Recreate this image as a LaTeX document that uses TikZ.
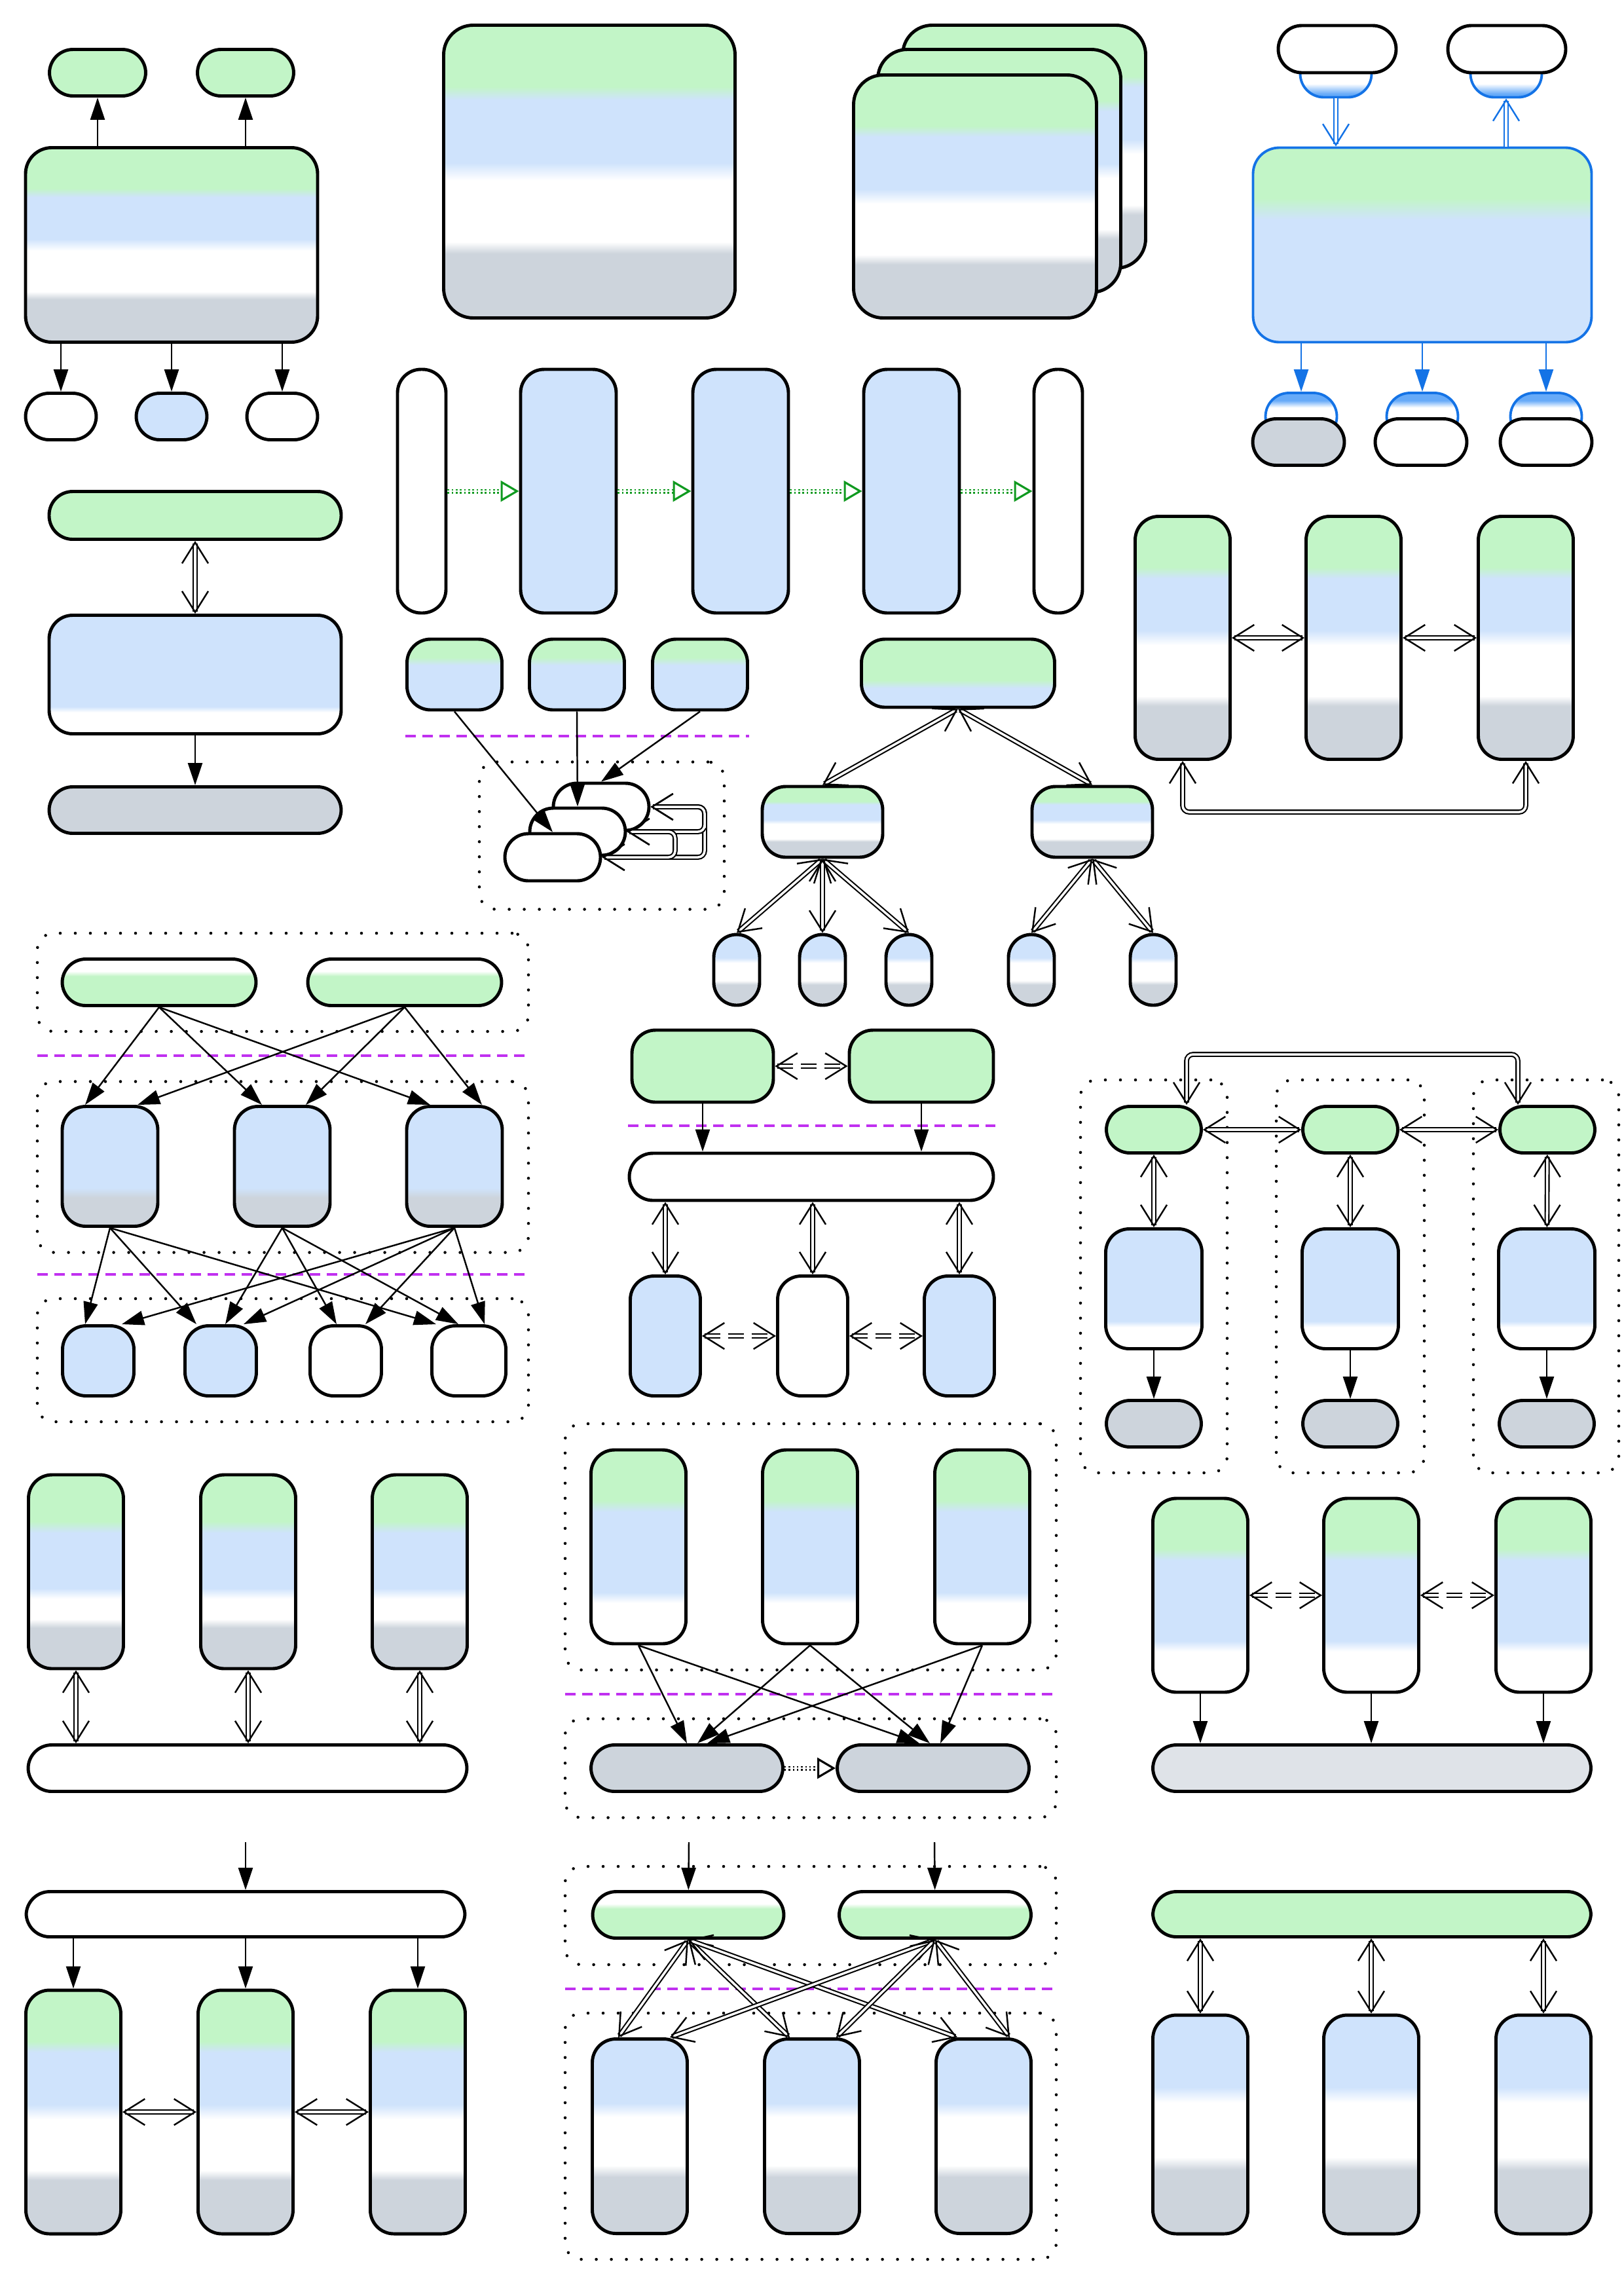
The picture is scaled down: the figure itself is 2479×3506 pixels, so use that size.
\documentclass[tikz,border=0pt]{standalone}
\usepackage{tikz}
\usetikzlibrary{arrows.meta}
\usetikzlibrary{shapes,fit,calc}

\definecolor{lgreen}{HTML}{C2F5C7}
\definecolor{lblue}{HTML}{CFE3FC}
\definecolor{lgray}{HTML}{CDD4DC}
\definecolor{pgray}{HTML}{DFE3E8}
\definecolor{hblue}{HTML}{66AAF8}
\definecolor{sblue}{HTML}{1473E6}
\definecolor{seppurple}{HTML}{C030F0}
\definecolor{flowgreen}{HTML}{109A20}

\pgfdeclareverticalshading{bandgbwg}{100bp}{color(0bp)=(lgray); color(36bp)=(lgray); color(38bp)=(white); color(48.5bp)=(white); color(51.5bp)=(lblue); color(62.25bp)=(lblue); color(64.5bp)=(lgreen); color(100bp)=(lgreen)}
\pgfdeclareverticalshading{bandgbwgb}{100bp}{color(0bp)=(lgray); color(35.5bp)=(lgray); color(37.75bp)=(white); color(43bp)=(white); color(45.75bp)=(lblue); color(60bp)=(lblue); color(63bp)=(lgreen); color(100bp)=(lgreen)}
\pgfdeclareverticalshading{bandgbw}{100bp}{color(0bp)=(white); color(35.5bp)=(white); color(38.25bp)=(lblue); color(59bp)=(lblue); color(62bp)=(lgreen); color(100bp)=(lgreen)}
\pgfdeclareverticalshading{bandgb}{100bp}{color(0bp)=(lblue); color(56.5bp)=(lblue); color(62bp)=(lgreen); color(100bp)=(lgreen)}
\pgfdeclareverticalshading{bandgbl}{100bp}{color(0bp)=(lblue); color(39bp)=(lblue); color(45bp)=(lgreen); color(100bp)=(lgreen)}
\pgfdeclareverticalshading{bandbw}{100bp}{color(0bp)=(white); color(34bp)=(white); color(36.5bp)=(lblue); color(100bp)=(lblue)}
\pgfdeclareverticalshading{bandbg}{100bp}{color(0bp)=(lgray); color(37bp)=(lgray); color(41bp)=(lblue); color(100bp)=(lblue)}
\pgfdeclareverticalshading{bandwg}{100bp}{color(0bp)=(lgreen); color(56.5bp)=(lgreen); color(62bp)=(white); color(100bp)=(white)}
\pgfdeclareverticalshading{bandbwg}{100bp}{color(0bp)=(lgray); color(39.5bp)=(lgray); color(42.5bp)=(white); color(55bp)=(white); color(58.5bp)=(lblue); color(100bp)=(lblue)}
\pgfdeclareverticalshading{bandhalfdown}{100bp}{color(0bp)=(hblue); color(28.5bp)=(hblue); color(39.5bp)=(white); color(100bp)=(white)}
\pgfdeclareverticalshading{bandhalfup}{100bp}{color(0bp)=(white); color(59.5bp)=(white); color(67bp)=(hblue); color(100bp)=(hblue)}

\begin{document}
\begin{tikzpicture}[x=0.1mm,y=-0.1mm]
    \newcommand{\slimheight}[0]{7.1mm}
    \newcommand{\tallwidth}[0]{14.5mm}

    \tikzstyle{cell}=[draw=black, line width=1.4pt, rounded corners=3.6mm, inner sep=0pt]
    \tikzstyle{portcell}=[cell, draw=sblue, line width=1.1pt]
    \tikzstyle{groupbox}=[draw=black, line width=1.3pt, dash pattern=on 0pt off 2.3mm, line cap=round, rounded corners=2.5mm, inner sep=0pt]
    \tikzstyle{sepline}=[draw=seppurple, line width=0.9pt, dash pattern=on 1.6mm off 1mm]
    \tikzstyle{dedge}=[line width=0.7pt, -{Triangle[length=3.4mm,width=2.2mm]}]
    \tikzstyle{iedge}=[line width=0.6pt, double, double distance=1pt, {Straight Barb[length=3.2mm,width=4mm,line width=0.7pt]}-{Straight Barb[length=3.2mm,width=4mm,line width=0.7pt]}]
    \tikzstyle{iedgeone}=[line width=0.6pt, double, double distance=1pt, -{Straight Barb[length=3.2mm,width=4mm,line width=0.7pt]}]
    \tikzstyle{dashedge}=[iedge, dash pattern=on 2.4mm off 1.2mm]
    \tikzstyle{flowedge}=[line width=0.6pt, double, double distance=0.8pt, dash pattern=on 0.7pt off 1.1pt, -{Triangle[open,length=2.8mm,width=3.2mm,line width=0.9pt]}]

    \useasboundingbox (0,0) rectangle (2479,3506);

    % spread: one box, two up, three down
    \node[cell, shade, shading=bandgbwg, rounded corners=4mm, minimum width=44.6mm, minimum height=29.7mm] (spreadbox) at (262,374) {};
    \node[cell, fill=lgreen, minimum width=14.7mm, minimum height=\slimheight] (spreadup1) at (149,111) {};
    \node[cell, fill=lgreen, minimum width=14.7mm, minimum height=\slimheight] (spreadup2) at (375,111) {};
    \node[cell, fill=white, minimum width=10.8mm, minimum height=\slimheight] (spreaddown1) at (93,636) {};
    \node[cell, fill=lblue, minimum width=10.8mm, minimum height=\slimheight] (spreaddown2) at (262,636) {};
    \node[cell, fill=white, minimum width=10.8mm, minimum height=\slimheight] (spreaddown3) at (431,636) {};
    \draw[dedge] (spreadbox.north -| spreadup1) -- (spreadup1);
    \draw[dedge] (spreadbox.north -| spreadup2) -- (spreadup2);
    \draw[dedge] (spreadbox.south -| spreaddown1) -- (spreaddown1);
    \draw[dedge] (spreadbox.south -| spreaddown2) -- (spreaddown2);
    \draw[dedge] (spreadbox.south -| spreaddown3) -- (spreaddown3);

    % single and stacked boxes
    \node[cell, shade, shading=bandgbwg, rounded corners=4.5mm, minimum width=44.5mm, minimum height=44.7mm] (solobox) at (900,262) {};
    \node[cell, shade, shading=bandgbwg, rounded corners=4.5mm, minimum width=37.1mm, minimum height=37.1mm] (stackback) at (1564,224) {};
    \node[cell, shade, shading=bandgbwg, rounded corners=4.5mm, minimum width=37.1mm, minimum height=37.1mm] (stackmid) at (1526,261) {};
    \node[cell, shade, shading=bandgbwg, rounded corners=4.5mm, minimum width=37.1mm, minimum height=37.1mm] (stackfront) at (1489,300) {};

    % hub with ports
    \node[portcell, shade, shading=bandhalfdown, minimum width=10.9mm, minimum height=7.1mm] (hubinport) at (2040,113) {};
    \node[portcell, shade, shading=bandhalfdown, minimum width=10.9mm, minimum height=7.1mm] (huboutport) at (2300,113) {};
    \node[cell, fill=white, minimum width=18mm, minimum height=7.2mm] (hubsource) at (2042,75) {};
    \node[cell, fill=white, minimum width=18mm, minimum height=7.2mm] (hubreturn) at (2301,75) {};
    \node[portcell, shade, shading=bandgb, rounded corners=4mm, minimum width=51.7mm, minimum height=29.7mm] (hubbox) at (2172,374) {};
    \node[portcell, shade, shading=bandhalfup, minimum width=10.9mm, minimum height=7.2mm] (hubport1) at (1987,636) {};
    \node[portcell, shade, shading=bandhalfup, minimum width=10.9mm, minimum height=7.2mm] (hubport2) at (2172,636) {};
    \node[portcell, shade, shading=bandhalfup, minimum width=10.9mm, minimum height=7.2mm] (hubport3) at (2361,636) {};
    \node[cell, fill=lgray, minimum width=14mm, minimum height=\slimheight] (hubsink1) at (1983,675) {};
    \node[cell, fill=white, minimum width=14mm, minimum height=\slimheight] (hubsink2) at (2170,675) {};
    \node[cell, fill=white, minimum width=14mm, minimum height=\slimheight] (hubsink3) at (2361,675) {};
    \draw[iedgeone, color=sblue] (hubinport) -- (hubinport |- hubbox.north);
    \draw[iedgeone, color=sblue] (hubbox.north -| huboutport) -- (huboutport);
    \draw[dedge, color=sblue] (hubbox.south -| hubport1) -- (hubport1);
    \draw[dedge, color=sblue] (hubbox.south -| hubport2) -- (hubport2);
    \draw[dedge, color=sblue] (hubbox.south -| hubport3) -- (hubport3);

    % pipeline row
    \node[cell, fill=white, minimum width=7.4mm, minimum height=37.2mm] (flowstart) at (644,750) {};
    \node[cell, fill=lblue, minimum width=14.6mm, minimum height=37.2mm] (flowstage1) at (868,750) {};
    \node[cell, fill=lblue, minimum width=14.6mm, minimum height=37.2mm] (flowstage2) at (1131,750) {};
    \node[cell, fill=lblue, minimum width=14.6mm, minimum height=37.2mm] (flowstage3) at (1392,750) {};
    \node[cell, fill=white, minimum width=7.4mm, minimum height=37.2mm] (flowend) at (1616,750) {};
    \draw[flowedge, color=flowgreen] (flowstart) -- (flowstage1);
    \draw[flowedge, color=flowgreen] (flowstage1) -- (flowstage2);
    \draw[flowedge, color=flowgreen] (flowstage2) -- (flowstage3);
    \draw[flowedge, color=flowgreen] (flowstage3) -- (flowend);

    % layers
    \node[cell, fill=lgreen, minimum width=44.6mm, minimum height=7.3mm] (layertop) at (298,787) {};
    \node[cell, shade, shading=bandbw, minimum width=44.6mm, minimum height=18.1mm] (layermid) at (298,1030) {};
    \node[cell, fill=lgray, minimum width=44.6mm, minimum height=\slimheight] (layerlow) at (298,1237) {};
    \draw[iedge] (layertop) -- (layermid);
    \draw[dedge] (layermid) -- (layerlow);

    % pool of copies
    \node[groupbox, minimum width=37.4mm, minimum height=22.5mm] (poolbox) at (919,1276) {};
    \node[cell, shade, shading=bandgb, minimum width=14.5mm, minimum height=10.8mm] (feed1) at (694,1030) {};
    \node[cell, shade, shading=bandgb, minimum width=14.5mm, minimum height=10.8mm] (feed2) at (881,1030) {};
    \node[cell, shade, shading=bandgb, minimum width=14.5mm, minimum height=10.8mm] (feed3) at (1069,1030) {};
    \draw[sepline] (619,1124) -- (1144,1124);
    \node[cell, fill=white, minimum width=14.6mm, minimum height=7.2mm] (poolback) at (918,1232) {};
    \node[cell, fill=white, minimum width=14.6mm, minimum height=7.2mm] (poolmid) at (882,1270) {};
    \node[cell, fill=white, minimum width=14.6mm, minimum height=7.2mm] (poolfront) at (844,1309) {};
    \coordinate (poolouter) at (1076,1270);
    \coordinate (poolinner) at (1031,1290);
    \draw[dedge] (feed1.south) -- (poolfront.north);
    \draw[dedge] (feed2.south) -- (poolmid.north);
    \draw[dedge] (feed3.south) -- (poolback.north);
    \draw[iedge, rounded corners=1mm] (poolfront.east) -| (poolouter) |- (poolback.east);
    \draw[iedge, rounded corners=1mm] (poolmid.east) -| (poolouter) |- (poolback.east);
    \draw[iedge, rounded corners=1mm] (poolmid.east) -| (poolinner) |- (poolfront.east);

    % tree
    \node[cell, shade, shading=bandgbl, minimum width=29.5mm, minimum height=10.4mm] (treeroot) at (1463,1028) {};
    \node[cell, shade, shading=bandgbwg, minimum width=18.4mm, minimum height=10.8mm] (treeleft) at (1256,1255) {};
    \node[cell, shade, shading=bandgbwg, minimum width=18.4mm, minimum height=10.8mm] (treeright) at (1668,1255) {};
    \node[cell, shade, shading=bandbwg, rounded corners=3.5mm, minimum width=7mm, minimum height=10.8mm] (treeleaf1) at (1125,1481) {};
    \node[cell, shade, shading=bandbwg, rounded corners=3.5mm, minimum width=7mm, minimum height=10.8mm] (treeleaf2) at (1256,1481) {};
    \node[cell, shade, shading=bandbwg, rounded corners=3.5mm, minimum width=7mm, minimum height=10.8mm] (treeleaf3) at (1388,1481) {};
    \node[cell, shade, shading=bandbwg, rounded corners=3.5mm, minimum width=7mm, minimum height=10.8mm] (treeleaf4) at (1575,1481) {};
    \node[cell, shade, shading=bandbwg, rounded corners=3.5mm, minimum width=7mm, minimum height=10.8mm] (treeleaf5) at (1761,1481) {};
    \draw[iedge] (treeroot.south) -- (treeleft.north);
    \draw[iedge] (treeroot.south) -- (treeright.north);
    \draw[iedge] (treeleft.south) -- (treeleaf1.north);
    \draw[iedge] (treeleft.south) -- (treeleaf2.north);
    \draw[iedge] (treeleft.south) -- (treeleaf3.north);
    \draw[iedge] (treeright.south) -- (treeleaf4.north);
    \draw[iedge] (treeright.south) -- (treeleaf5.north);

    % ring of three
    \node[cell, shade, shading=bandgbwg, minimum width=\tallwidth, minimum height=37.1mm] (ring1) at (1806,974) {};
    \node[cell, shade, shading=bandgbwg, minimum width=\tallwidth, minimum height=37.1mm] (ring2) at (2067,974) {};
    \node[cell, shade, shading=bandgbwg, minimum width=\tallwidth, minimum height=37.1mm] (ring3) at (2330,974) {};
    \coordinate (ringback) at (2067,1240);
    \draw[iedge] (ring1) -- (ring2);
    \draw[iedge] (ring2) -- (ring3);
    \draw[iedge, rounded corners=1mm] (ring1.south) |- (ringback) -| (ring3.south);

    % three levels
    \node[groupbox, minimum width=75mm, minimum height=15mm] (srcgroup) at (432,1500) {};
    \node[groupbox, minimum width=75mm, minimum height=26.1mm] (midgroup) at (432,1782) {};
    \node[groupbox, minimum width=75mm, minimum height=18.8mm] (sinkgroup) at (432,2077) {};
    \node[cell, shade, shading=bandwg, minimum width=29.6mm, minimum height=\slimheight] (src1) at (243,1500) {};
    \node[cell, shade, shading=bandwg, minimum width=29.6mm, minimum height=\slimheight] (src2) at (618,1500) {};
    \draw[sepline] (57,1612) -- (807,1612);
    \node[cell, shade, shading=bandbg, minimum width=14.6mm, minimum height=18.3mm] (mid1) at (168,1781) {};
    \node[cell, shade, shading=bandbg, minimum width=14.6mm, minimum height=18.3mm] (mid2) at (431,1781) {};
    \node[cell, shade, shading=bandbg, minimum width=14.6mm, minimum height=18.3mm] (mid3) at (694,1781) {};
    \draw[sepline] (57,1946) -- (807,1946);
    \node[cell, fill=lblue, minimum width=10.9mm, minimum height=10.7mm] (sink1) at (150,2078) {};
    \node[cell, fill=lblue, minimum width=10.9mm, minimum height=10.7mm] (sink2) at (337,2078) {};
    \node[cell, fill=white, minimum width=10.9mm, minimum height=10.7mm] (sink3) at (528,2078) {};
    \node[cell, fill=white, minimum width=11.3mm, minimum height=10.7mm] (sink4) at (716,2078) {};
    \draw[dedge] (src1.south) -- ([xshift=-3.8mm]mid1.north);
    \draw[dedge] (src1.south) -- ([xshift=-3.1mm]mid2.north);
    \draw[dedge] (src1.south) -- ([xshift=-3.7mm]mid3.north);
    \draw[dedge] (src2.south) -- ([xshift=4.2mm]mid1.north);
    \draw[dedge] (src2.south) -- ([xshift=3.6mm]mid2.north);
    \draw[dedge] (src2.south) -- ([xshift=4.2mm]mid3.north);
    \draw[dedge] (mid1.south) -- ([xshift=-2mm]sink1.north);
    \draw[dedge] (mid1.south) -- ([xshift=-3.7mm]sink2.north);
    \draw[dedge] (mid1.south) -- ([xshift=-5mm]sink4.north);
    \draw[dedge] (mid2.south) -- ([xshift=0.7mm]sink2.north);
    \draw[dedge] (mid2.south) -- ([xshift=-1.4mm]sink3.north);
    \draw[dedge] (mid2.south) -- ([xshift=-1.6mm]sink4.north);
    \draw[dedge] (mid3.south) -- ([xshift=3.6mm]sink1.north);
    \draw[dedge] (mid3.south) -- ([xshift=3.5mm]sink2.north);
    \draw[dedge] (mid3.south) -- ([xshift=3mm]sink3.north);
    \draw[dedge] (mid3.south) -- ([xshift=2.4mm]sink4.north);

    % peers over a bus
    \node[cell, fill=lgreen, minimum width=21.6mm, minimum height=11mm] (peer1) at (1073,1628) {};
    \node[cell, fill=lgreen, minimum width=22mm, minimum height=11mm] (peer2) at (1407,1628) {};
    \draw[dashedge] (peer1) -- (peer2);
    \draw[sepline] (959,1719) -- (1520,1719);
    \node[cell, fill=white, minimum width=55.6mm, minimum height=7.2mm] (busbar) at (1239,1797) {};
    \node[cell, fill=lblue, minimum width=10.7mm, minimum height=18.3mm] (bus1) at (1016,2040) {};
    \node[cell, fill=white, minimum width=10.7mm, minimum height=18.3mm] (bus2) at (1241,2040) {};
    \node[cell, fill=lblue, minimum width=10.7mm, minimum height=18.3mm] (bus3) at (1465,2040) {};
    \draw[dedge] (peer1) -- (peer1 |- busbar.north);
    \draw[dedge] (peer2) -- (peer2 |- busbar.north);
    \draw[iedge] (busbar.south -| bus1) -- (bus1);
    \draw[iedge] (busbar.south -| bus2) -- (bus2);
    \draw[iedge] (busbar.south -| bus3) -- (bus3);
    \draw[dashedge] (bus1) -- (bus2);
    \draw[dashedge] (bus2) -- (bus3);

    % lanes
    \node[groupbox, minimum width=22.4mm, minimum height=60mm] (lanebox1) at (1762,1949) {};
    \node[groupbox, minimum width=22.6mm, minimum height=60mm] (lanebox2) at (2062,1949) {};
    \node[groupbox, minimum width=22.2mm, minimum height=60mm] (lanebox3) at (2361,1949) {};
    \node[cell, fill=lgreen, minimum width=\tallwidth, minimum height=\slimheight] (lanehead1) at (1762,1725) {};
    \node[cell, fill=lgreen, minimum width=\tallwidth, minimum height=\slimheight] (lanehead2) at (2062,1725) {};
    \node[cell, fill=lgreen, minimum width=\tallwidth, minimum height=\slimheight] (lanehead3) at (2363,1725) {};
    \node[cell, shade, shading=bandbw, minimum width=14.7mm, minimum height=18.3mm] (lanebody1) at (1762,1968) {};
    \node[cell, shade, shading=bandbw, minimum width=14.7mm, minimum height=18.3mm] (lanebody2) at (2062,1968) {};
    \node[cell, shade, shading=bandbw, minimum width=14.7mm, minimum height=18.3mm] (lanebody3) at (2362,1968) {};
    \node[cell, fill=lgray, minimum width=\tallwidth, minimum height=\slimheight] (lanefoot1) at (1762,2174) {};
    \node[cell, fill=lgray, minimum width=\tallwidth, minimum height=\slimheight] (lanefoot2) at (2062,2174) {};
    \node[cell, fill=lgray, minimum width=\tallwidth, minimum height=\slimheight] (lanefoot3) at (2362,2174) {};
    \coordinate (lanetop) at (2062,1610);
    \draw[iedge] (lanehead1) -- (lanehead2);
    \draw[iedge] (lanehead2) -- (lanehead3);
    \draw[iedge, rounded corners=1mm] ([xshift=5mm]lanehead1.north) |- (lanetop) -| ([xshift=-4.5mm]lanehead3.north);
    \draw[iedge] (lanehead1) -- (lanebody1);
    \draw[iedge] (lanehead2) -- (lanebody2);
    \draw[iedge] (lanehead3) -- (lanebody3);
    \draw[dedge] (lanebody1) -- (lanefoot1);
    \draw[dedge] (lanebody2) -- (lanefoot2);
    \draw[dedge] (lanebody3) -- (lanefoot3);

    % columns on a bar
    \node[cell, shade, shading=bandgbwgb, minimum width=\tallwidth, minimum height=29.6mm] (col1) at (116,2400) {};
    \node[cell, shade, shading=bandgbwgb, minimum width=\tallwidth, minimum height=29.6mm] (col2) at (379,2400) {};
    \node[cell, shade, shading=bandgbwgb, minimum width=\tallwidth, minimum height=29.6mm] (col3) at (641,2400) {};
    \node[cell, fill=white, minimum width=67mm, minimum height=\slimheight] (colbar) at (378,2700) {};
    \draw[iedge] (col1) -- (col1 |- colbar.north);
    \draw[iedge] (col2) -- (col2 |- colbar.north);
    \draw[iedge] (col3) -- (col3 |- colbar.north);

    % workers and stores
    \node[groupbox, minimum width=75mm, minimum height=37.6mm] (workbox) at (1238,2362) {};
    \node[groupbox, minimum width=75mm, minimum height=15.1mm] (storebox) at (1238,2700) {};
    \node[cell, shade, shading=bandgbw, minimum width=\tallwidth, minimum height=29.6mm] (work1) at (975,2362) {};
    \node[cell, shade, shading=bandgbw, minimum width=\tallwidth, minimum height=29.6mm] (work2) at (1237,2362) {};
    \node[cell, shade, shading=bandgbw, minimum width=\tallwidth, minimum height=29.6mm] (work3) at (1500,2362) {};
    \draw[sepline] (863,2587) -- (1613,2587);
    \node[cell, fill=lgray, minimum width=29.3mm, minimum height=\slimheight] (store1) at (1049,2700) {};
    \node[cell, fill=lgray, minimum width=29.3mm, minimum height=\slimheight] (store2) at (1425,2700) {};
    \draw[flowedge] (store1) -- (store2);
    \draw[dedge] (work1.south) -- (store1.north);
    \draw[dedge] (work1.south) -- ([xshift=-2.1mm]store2.north);
    \draw[dedge] (work2.south) -- ([xshift=1.6mm]store1.north);
    \draw[dedge] (work2.south) -- ([xshift=-0.5mm]store2.north);
    \draw[dedge] (work3.south) -- ([xshift=3.1mm]store1.north);
    \draw[dedge] (work3.south) -- ([xshift=1.1mm]store2.north);

    % merge onto a bar
    \node[cell, shade, shading=bandgbw, minimum width=\tallwidth, minimum height=29.6mm] (merge1) at (1833,2436) {};
    \node[cell, shade, shading=bandgbw, minimum width=\tallwidth, minimum height=29.6mm] (merge2) at (2094,2436) {};
    \node[cell, shade, shading=bandgbw, minimum width=\tallwidth, minimum height=29.6mm] (merge3) at (2357,2436) {};
    \node[cell, fill=pgray, minimum width=66.9mm, minimum height=\slimheight] (mergebar) at (2095,2700) {};
    \draw[dashedge] (merge1) -- (merge2);
    \draw[dashedge] (merge2) -- (merge3);
    \draw[dedge] (merge1) -- (merge1 |- mergebar.north);
    \draw[dedge] (merge2) -- (merge2 |- mergebar.north);
    \draw[dedge] (merge3) -- (merge3 |- mergebar.north);

    % split from a bar
    \coordinate (splitin) at (375,2813);
    \node[cell, fill=white, minimum width=67mm, minimum height=6.9mm] (splitbar) at (375,2923) {};
    \node[cell, shade, shading=bandgbwg, minimum width=\tallwidth, minimum height=37.2mm] (split1) at (112,3225) {};
    \node[cell, shade, shading=bandgbwg, minimum width=\tallwidth, minimum height=37.2mm] (split2) at (375,3225) {};
    \node[cell, shade, shading=bandgbwg, minimum width=\tallwidth, minimum height=37.2mm] (split3) at (638,3225) {};
    \draw[dedge] (splitin) -- (splitbar);
    \draw[dedge] (splitbar.south -| split1) -- (split1);
    \draw[dedge] (splitbar.south -| split2) -- (split2);
    \draw[dedge] (splitbar.south -| split3) -- (split3);
    \draw[iedge] (split1) -- (split2);
    \draw[iedge] (split2) -- (split3);

    % crossed links
    \node[groupbox, minimum width=75mm, minimum height=15mm] (crossinbox) at (1238,2925) {};
    \node[groupbox, minimum width=75mm, minimum height=37.6mm] (crossoutbox) at (1238,3262) {};
    \coordinate (crossfeed1) at (1052,2813);
    \coordinate (crossfeed2) at (1427,2813);
    \node[cell, shade, shading=bandwg, minimum width=29.2mm, minimum height=\slimheight] (crosshead1) at (1051,2924) {};
    \node[cell, shade, shading=bandwg, minimum width=29.3mm, minimum height=\slimheight] (crosshead2) at (1428,2924) {};
    \draw[sepline] (863,3037) -- (1613,3037);
    \node[cell, shade, shading=bandbwg, minimum width=\tallwidth, minimum height=29.7mm] (crossleg1) at (977,3262) {};
    \node[cell, shade, shading=bandbwg, minimum width=\tallwidth, minimum height=29.7mm] (crossleg2) at (1240,3262) {};
    \node[cell, shade, shading=bandbwg, minimum width=\tallwidth, minimum height=29.7mm] (crossleg3) at (1502,3262) {};
    \draw[dedge] (crossfeed1) -- (crosshead1);
    \draw[dedge] (crossfeed2) -- (crosshead2);
    \draw[iedge] (crosshead1.south) -- ([xshift=-3.3mm]crossleg1.north);
    \draw[iedge] (crosshead1.south) -- ([xshift=-3.4mm]crossleg2.north);
    \draw[iedge] (crosshead1.south) -- ([xshift=-4mm]crossleg3.north);
    \draw[iedge] (crosshead2.south) -- ([xshift=4.6mm]crossleg1.north);
    \draw[iedge] (crosshead2.south) -- ([xshift=3.7mm]crossleg2.north);
    \draw[iedge] (crosshead2.south) -- ([xshift=4mm]crossleg3.north);

    % fan from a bar
    \node[cell, fill=lgreen, minimum width=66.9mm, minimum height=6.9mm] (fanbar) at (2095,2923) {};
    \node[cell, shade, shading=bandbwg, minimum width=\tallwidth, minimum height=33.4mm] (fanleg1) at (1833,3244) {};
    \node[cell, shade, shading=bandbwg, minimum width=\tallwidth, minimum height=33.4mm] (fanleg2) at (2094,3244) {};
    \node[cell, shade, shading=bandbwg, minimum width=\tallwidth, minimum height=33.4mm] (fanleg3) at (2357,3244) {};
    \draw[iedge] (fanbar.south -| fanleg1) -- (fanleg1);
    \draw[iedge] (fanbar.south -| fanleg2) -- (fanleg2);
    \draw[iedge] (fanbar.south -| fanleg3) -- (fanleg3);
\end{tikzpicture}
\end{document}
